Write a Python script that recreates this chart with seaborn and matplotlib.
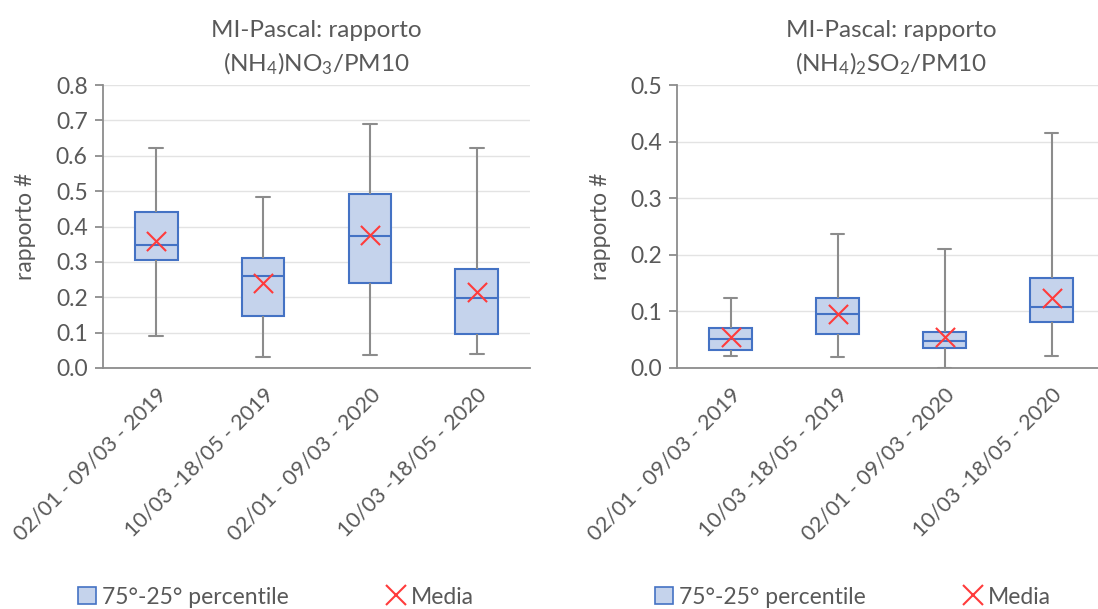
import numpy as np
import pandas as pd
import matplotlib
matplotlib.use("Agg")
import matplotlib.pyplot as plt
import seaborn as sns
from matplotlib.patches import Patch
from matplotlib.lines import Line2D
from matplotlib.ticker import FormatStrFormatter, MultipleLocator

# ---- data ----
categories = ["02/01 - 09/03 - 2019", "10/03 -18/05 - 2019",
              "02/01 - 09/03 - 2020", "10/03 -18/05 - 2020"]

# left panel: (NH4)NO3/PM10
no3_min = [0.091, 0.031, 0.036, 0.040]
no3_q1 = [0.305, 0.147, 0.240, 0.096]
no3_med = [0.347, 0.260, 0.374, 0.199]
no3_q3 = [0.442, 0.310, 0.493, 0.280]
no3_max = [0.621, 0.484, 0.689, 0.621]
no3_mean = [0.360, 0.240, 0.376, 0.214]

# right panel: (NH4)2SO2/PM10
so_min = [0.022, 0.019, 0.000, 0.022]
so_q1 = [0.032, 0.060, 0.035, 0.082]
so_med = [0.051, 0.095, 0.048, 0.108]
so_q3 = [0.070, 0.1235, 0.0635, 0.159]
so_max = [0.1235, 0.236, 0.210, 0.415]
so_mean = [0.054, 0.095, 0.054, 0.123]

titles = ["MI-Pascal: rapporto\n(NH$_4$)NO$_3$/PM10",
          "MI-Pascal: rapporto\n(NH$_4$)$_2$SO$_2$/PM10"]
ylabel = "rapporto #"
legend_box = "75°-25° percentile"
legend_mean = "Media"

# ---- style ----
sns.set_theme(style="white")
plt.rcParams['font.family'] = ['Lato', 'DejaVu Sans']
plt.rcParams['mathtext.default'] = 'regular'
TXT = "#595959"
AX = "#8c8c8c"
BLUE = "#4472C4"
FILL = "#C5D3EC"
RED = "#FF3B3B"

fig = plt.figure(figsize=(10.98, 6.09), dpi=100)
ax1 = fig.add_axes([103/1098, 1-368/609, 427/1098, 283/609])
ax2 = fig.add_axes([677/1098, 1-368/609, 428/1098, 283/609])


def five_num_frame(mins, q1s, meds, q3s, maxs):
    rows = []
    for c, a, b, m, d, e in zip(categories, mins, q1s, meds, q3s, maxs):
        for v in (a, b, m, d, e):
            rows.append({"periodo": c, "valore": v})
    return pd.DataFrame(rows)


panels = [
    (ax1, five_num_frame(no3_min, no3_q1, no3_med, no3_q3, no3_max), no3_mean, 0.8, titles[0]),
    (ax2, five_num_frame(so_min, so_q1, so_med, so_q3, so_max), so_mean, 0.5, titles[1]),
]

for ax, df, means, ymax, title in panels:
    sns.boxplot(data=df, x="periodo", y="valore", order=categories, ax=ax,
                whis=np.inf, width=0.4, showfliers=False,
                boxprops=dict(facecolor=FILL, edgecolor=BLUE, linewidth=1.5),
                medianprops=dict(color=BLUE, linewidth=1.5),
                whiskerprops=dict(color=AX, linewidth=1.5),
                capprops=dict(color=AX, linewidth=1.5),
                capwidths=0.13)
    mdf = pd.DataFrame({"periodo": categories, "valore": means})
    sns.scatterplot(data=mdf, x="periodo", y="valore", ax=ax, marker="x",
                    s=190, color=RED, linewidth=1.5, zorder=5, legend=False)
    ax.set_xlim(-0.5, 3.5)
    ax.set_ylim(0, ymax)
    ax.yaxis.set_major_locator(MultipleLocator(0.1))
    ax.yaxis.set_major_formatter(FormatStrFormatter("%.1f"))
    ax.grid(axis="y", color="#e3e3e3", linewidth=1)
    ax.set_axisbelow(True)
    for s in ("top", "right"):
        ax.spines[s].set_visible(False)
    for s in ("left", "bottom"):
        ax.spines[s].set_color(AX)
        ax.spines[s].set_linewidth(1.3)
    ax.set_xticks(range(len(categories)))
    ax.set_xticklabels(categories, rotation=45, ha="right", rotation_mode="anchor",
                       fontsize=15.5, color=TXT)
    ax.tick_params(axis="x", which="major", length=0, pad=12)
    ax.set_xticks([-0.5, 0.5, 1.5, 2.5, 3.5], minor=True)
    ax.tick_params(axis="x", which="minor", length=6, color=AX, width=1.3, direction="out")
    ax.tick_params(axis="y", length=6, color=AX, width=1.3, direction="out",
                   labelsize=16.5, labelcolor=TXT, left=True, pad=5)
    ax.set_xlabel("")
    ax.set_ylabel(ylabel, fontsize=16.5, color=TXT, labelpad=14)
    ax.set_title(title, fontsize=17.5, color=TXT, pad=10, linespacing=1.45)

handles = [Patch(facecolor=FILL, edgecolor=BLUE, linewidth=1.2),
           Line2D([], [], marker="x", linestyle="none", color=RED, markersize=14, markeredgewidth=1.5)]
for xc in (276/1098, 853/1098):
    fig.legend(handles, [legend_box, legend_mean], loc="center",
               bbox_to_anchor=(xc, 1-597/609), ncol=2, frameon=False,
               fontsize=16.5, labelcolor=TXT, handlelength=0.8, handleheight=0.8,
               handletextpad=0.25, columnspacing=4.3)

fig.savefig("out.png", dpi=100)
